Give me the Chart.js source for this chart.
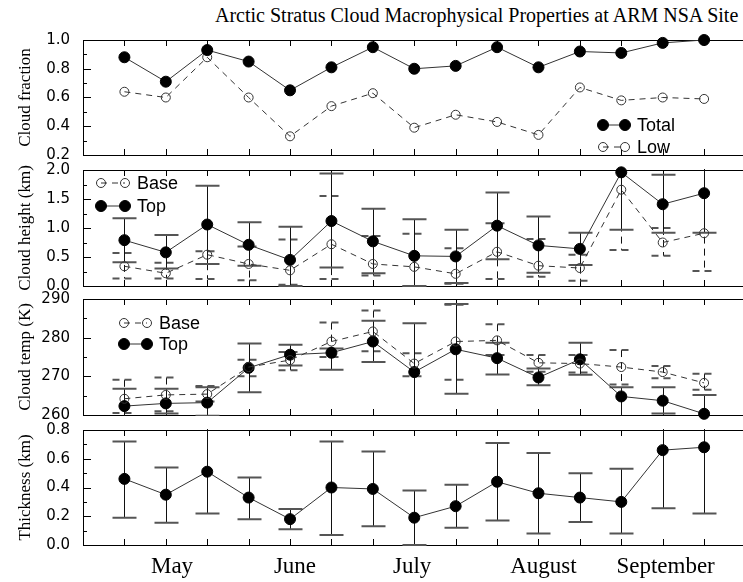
<!DOCTYPE html>
<html>
<head>
<meta charset="utf-8">
<script src="https://cdn.jsdelivr.net/npm/chart.js@4.4.1/dist/chart.umd.min.js"></script>
<style>
  html, body { margin: 0; padding: 0; background: #fff; overflow: hidden; }
  #wrap { position: relative; width: 743px; height: 582px; overflow: hidden; }
  #wrap canvas { position: absolute; left: 0; top: 0; }
  #title { position: absolute; left: 215px; top: 5px; font: 20px/20px "Liberation Serif", serif; color: #000; white-space: nowrap; }
</style>
</head>
<body>
<div id="wrap">
  <div id="title">Arctic Stratus Cloud Macrophysical Properties at ARM NSA Site</div>
  <canvas id="fracChart" width="752" height="582"></canvas>
  <canvas id="heightChart" width="752" height="582"></canvas>
  <canvas id="tempChart" width="752" height="582"></canvas>
  <canvas id="thickChart" width="752" height="582"></canvas>
</div>
<script>
// observation periods (about ten days each), May to mid September
const period = [0, 1, 2, 3, 4, 5, 6, 7, 8, 9, 10, 11, 12, 13, 14];
const monthNames = ['May', 'June', 'July', 'August', 'September'];
const monthPos = [1.15, 4.12, 6.95, 10.12, 13.07];

// cloud fraction
const fracTotal = [0.88, 0.71, 0.93, 0.85, 0.65, 0.81, 0.95, 0.80, 0.82, 0.95, 0.81, 0.92, 0.91, 0.98, 1.00];
const fracLow = [0.64, 0.60, 0.88, 0.60, 0.33, 0.54, 0.63, 0.39, 0.48, 0.43, 0.34, 0.67, 0.58, 0.60, 0.59];

// cloud height (km)
const heightTop = [0.79, 0.58, 1.06, 0.71, 0.45, 1.12, 0.77, 0.52, 0.51, 1.04, 0.70, 0.64, 1.96, 1.41, 1.60];
const heightTopHi = [1.17, 0.88, 1.73, 1.10, 1.02, 1.94, 1.33, 1.15, 0.97, 1.61, 1.20, 0.92, 2.30, 1.92, 2.30];
const heightTopLo = [0.41, 0.30, 0.38, 0.35, 0.00, 0.32, 0.22, 0.00, 0.05, 0.46, 0.23, 0.36, 0.97, 0.92, 0.92];
const heightBase = [0.34, 0.22, 0.54, 0.38, 0.27, 0.72, 0.38, 0.33, 0.21, 0.59, 0.35, 0.31, 1.66, 0.75, 0.91];
const heightBaseHi = [0.57, 0.40, 0.60, 0.68, 0.80, 1.55, 0.86, 0.90, 0.65, 1.08, 0.81, 0.54, 2.30, 1.00, 2.30];
const heightBaseLo = [0.13, 0.13, 0.12, 0.10, 0.02, 0.12, 0.18, 0.00, 0.04, 0.12, 0.16, 0.09, 0.62, 0.52, 0.26];

// cloud temperature (K)
const tempBase = [264.2, 265.2, 265.4, 272.4, 274.2, 279.0, 281.6, 273.3, 279.0, 279.3, 273.5, 273.3, 272.4, 271.1, 268.3];
const tempBaseHi = [269.1, 269.7, 267.5, 274.3, 276.3, 283.9, 287.0, 276.0, 288.5, 283.5, 275.5, 275.5, 276.8, 272.7, 270.7];
const tempBaseLo = [260.5, 261.0, 263.5, 270.0, 271.6, 275.0, 276.5, 270.0, 269.1, 275.5, 271.2, 271.0, 267.9, 269.5, 266.5];
const tempTop = [262.3, 263.0, 263.2, 272.2, 275.6, 276.1, 279.0, 271.1, 277.0, 274.7, 269.7, 274.4, 264.8, 263.7, 260.3];
const tempTopHi = [266.8, 266.8, 267.2, 278.5, 278.2, 277.2, 284.4, 283.7, 288.7, 278.7, 272.0, 278.7, 267.2, 267.2, 265.2];
const tempTopLo = [259.0, 260.4, 259.8, 265.9, 272.8, 271.7, 273.7, 259.0, 265.5, 270.5, 267.7, 270.4, 259.0, 260.4, 258.0];

// cloud thickness (km)
const thick = [0.46, 0.35, 0.51, 0.33, 0.18, 0.40, 0.39, 0.19, 0.27, 0.44, 0.36, 0.33, 0.30, 0.66, 0.68];
const thickHi = [0.72, 0.54, 0.90, 0.47, 0.25, 0.72, 0.65, 0.38, 0.42, 0.71, 0.64, 0.50, 0.53, 0.95, 0.95];
const thickLo = [0.19, 0.155, 0.22, 0.18, 0.11, 0.07, 0.13, 0.00, 0.12, 0.17, 0.08, 0.16, 0.08, 0.255, 0.22];

const pts = vals => vals.map((v, i) => ({ x: period[i], y: v }));

// frame round the plot area plus the inward tick marks
const frameTicks = {
  id: 'frameTicks',
  beforeDatasetsDraw(chart, args, opts) {
    const { ctx, chartArea: a, scales: { x, y } } = chart;
    ctx.save();
    ctx.strokeStyle = '#000';
    ctx.lineWidth = 1;
    ctx.strokeRect(a.left + 0.5, a.top + 0.5, a.width, a.height);
    ctx.beginPath();
    period.forEach(v => {
      const px = Math.round(x.getPixelForValue(v)) + 0.5;
      ctx.moveTo(px, a.top); ctx.lineTo(px, a.top + 6);
      ctx.moveTo(px, a.bottom); ctx.lineTo(px, a.bottom - 6);
    });
    const nMinor = Math.round((y.max - y.min) / opts.minor);
    for (let k = 0; k <= nMinor; k++) {
      const v = y.min + k * opts.minor;
      const major = y.ticks.some(t => Math.abs(t.value - v) < 1e-6);
      const py = Math.round(y.getPixelForValue(v)) + 0.5;
      ctx.moveTo(a.left, py); ctx.lineTo(a.left + (major ? 8 : 4), py);
    }
    ctx.stroke();
    ctx.restore();
  }
};

// vertical spread bars, dashed for cloud base
const errorBars = {
  id: 'errorBars',
  beforeDatasetsDraw(chart) {
    const { ctx, chartArea: a, scales: { x, y } } = chart;
    ctx.save();
    ctx.beginPath();
    ctx.rect(a.left, a.top - 1, a.width, a.height + 2);
    ctx.clip();
    chart.data.datasets.forEach(ds => {
      if (!ds.errHi) return;
      ctx.setLineDash(ds.barDash || []);
      ds.data.forEach((p, i) => {
        const px = Math.round(x.getPixelForValue(p.x)) + 0.5;
        const yh = y.getPixelForValue(ds.errHi[i]);
        const yl = y.getPixelForValue(ds.errLo[i]);
        ctx.strokeStyle = '#111';
        ctx.lineWidth = 1;
        ctx.beginPath();
        ctx.moveTo(px, yh); ctx.lineTo(px, yl);
        ctx.stroke();
        ctx.strokeStyle = '#555';
        ctx.lineWidth = 2;
        ctx.beginPath();
        ctx.moveTo(px - 12, yh); ctx.lineTo(px + 12, yh);
        ctx.moveTo(px - 12, yl); ctx.lineTo(px + 12, yl);
        ctx.stroke();
      });
    });
    ctx.restore();
  }
};

// small legends sitting inside the panels
const panelLegend = {
  id: 'panelLegend',
  afterDatasetsDraw(chart, args, opts) {
    if (!opts.items) return;
    const ctx = chart.ctx;
    ctx.save();
    opts.items.forEach(it => {
      const ds = chart.data.datasets[it.ds];
      ctx.strokeStyle = ds.borderColor;
      ctx.lineWidth = 1;
      ctx.setLineDash(ds.borderDash || []);
      ctx.beginPath();
      ctx.moveTo(it.x1, it.y); ctx.lineTo(it.x2, it.y);
      ctx.stroke();
      ctx.setLineDash([]);
      [it.x1, it.x2].forEach(cx => {
        ctx.beginPath();
        ctx.arc(cx, it.y, ds.pointRadius, 0, Math.PI * 2);
        ctx.fillStyle = ds.pointBackgroundColor;
        ctx.fill();
        ctx.strokeStyle = ds.pointBorderColor;
        ctx.stroke();
      });
      ctx.fillStyle = '#000';
      ctx.font = '18px "Liberation Sans", sans-serif';
      ctx.textBaseline = 'middle';
      ctx.fillText(ds.label, it.tx, it.y + 1);
    });
    ctx.restore();
  }
};

Chart.register(frameTicks, errorBars, panelLegend);

function filled(label, vals, hi, lo) {
  return {
    label, data: pts(vals), errHi: hi, errLo: lo,
    borderColor: '#333', borderWidth: 1,
    pointRadius: 5.5, pointBackgroundColor: '#000', pointBorderColor: '#000',
    clip: false
  };
}
function open(label, vals, hi, lo) {
  return {
    label, data: pts(vals), errHi: hi, errLo: lo,
    borderColor: '#333', borderWidth: 1, borderDash: [6, 5], barDash: [7, 5],
    pointRadius: 4.5, pointBackgroundColor: 'rgba(255,255,255,0)', pointBorderColor: '#333',
    clip: false
  };
}

function panelOptions(p) {
  const showX = !!p.showX;
  return {
    responsive: false,
    animation: false,
    layout: { padding: { top: p.top, bottom: 582 - p.bottom - (showX ? 37 : 0), left: 0, right: 1 } },
    plugins: {
      legend: { display: false },
      tooltip: { enabled: false },
      frameTicks: { minor: p.minor },
      panelLegend: { items: p.legend }
    },
    scales: {
      x: {
        type: 'linear', min: -1, max: 15, display: showX,
        grid: { display: false, drawTicks: false },
        border: { display: false },
        afterBuildTicks: s => { s.ticks = monthPos.map(v => ({ value: v })); },
        afterFit: s => { s.height = showX ? 37 : 0; },
        ticks: {
          autoSkip: false, maxRotation: 0, padding: 8, color: '#000',
          font: { family: 'Liberation Serif', size: 23 },
          callback: (v, i) => monthNames[i]
        }
      },
      y: {
        min: p.min, max: p.max,
        afterFit: s => { s.width = 83; },
        grid: { display: false, drawTicks: false },
        border: { display: false },
        ticks: {
          stepSize: p.step, padding: 13, color: '#000', autoSkip: false,
          font: { family: 'DejaVu Sans', size: 15 },
          callback: v => v.toFixed(p.dec)
        },
        title: {
          display: true, text: p.title, color: '#000',
          font: { family: 'Liberation Serif', size: 17 },
          padding: { top: 15, bottom: 0 }
        }
      }
    }
  };
}

new Chart(document.getElementById('fracChart'), {
  type: 'line',
  data: { datasets: [filled('Total', fracTotal), open('Low', fracLow)] },
  options: panelOptions({
    top: 40, bottom: 155, min: 0.2, max: 1.0, step: 0.2, minor: 0.1, dec: 1, title: 'Cloud fraction',
    legend: [{ ds: 0, x1: 603, x2: 625, tx: 637, y: 125 }, { ds: 1, x1: 603, x2: 625, tx: 637, y: 147 }]
  })
});

new Chart(document.getElementById('heightChart'), {
  type: 'line',
  data: { datasets: [
    open('Base', heightBase, heightBaseHi, heightBaseLo),
    filled('Top', heightTop, heightTopHi, heightTopLo)
  ] },
  options: panelOptions({
    top: 170, bottom: 286, min: 0, max: 2.0, step: 0.5, minor: 0.25, dec: 1, title: 'Cloud height (km)',
    legend: [{ ds: 0, x1: 101, x2: 125, tx: 137, y: 183 }, { ds: 1, x1: 101, x2: 125, tx: 137, y: 206 }]
  })
});

new Chart(document.getElementById('tempChart'), {
  type: 'line',
  data: { datasets: [
    open('Base', tempBase, tempBaseHi, tempBaseLo),
    filled('Top', tempTop, tempTopHi, tempTopLo)
  ] },
  options: panelOptions({
    top: 299, bottom: 415, min: 260, max: 290, step: 10, minor: 5, dec: 0, title: 'Cloud temp (K)',
    legend: [{ ds: 0, x1: 124, x2: 147, tx: 159, y: 323 }, { ds: 1, x1: 124, x2: 147, tx: 159, y: 344 }]
  })
});

new Chart(document.getElementById('thickChart'), {
  type: 'line',
  data: { datasets: [filled('Thickness', thick, thickHi, thickLo)] },
  options: panelOptions({
    top: 430, bottom: 545, min: 0, max: 0.8, step: 0.2, minor: 0.1, dec: 1, title: 'Thickness (km)',
    showX: true
  })
});
</script>
</body>
</html>
